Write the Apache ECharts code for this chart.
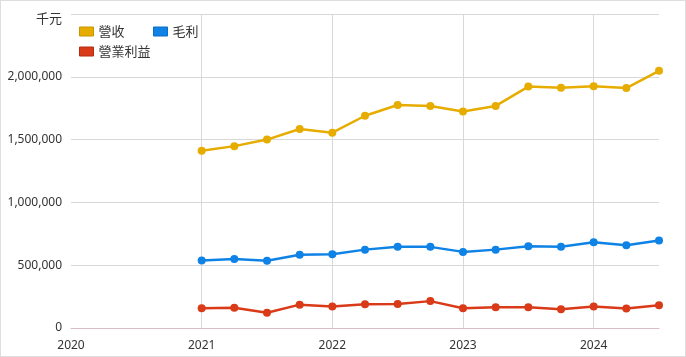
<!DOCTYPE html>
<html>
<head>
<meta charset="utf-8">
<script src="https://cdn.jsdelivr.net/npm/echarts@6/dist/echarts.min.js"></script>
<style>
html,body{margin:0;padding:0;background:#fff;}
#chart{width:686px;height:357px;box-sizing:border-box;border:1px solid #dedede;}
</style>
</head>
<body>
<div id="chart"></div>
<script>
// Quarter periods
var periods = ['2021Q1','2021Q2','2021Q3','2021Q4','2022Q1','2022Q2','2022Q3','2022Q4','2023Q1','2023Q2','2023Q3','2023Q4','2024Q1','2024Q2','2024Q3'];
var revenue = [1412000,1448000,1500000,1584000,1555000,1690000,1775000,1768000,1723000,1768000,1922000,1912000,1925000,1910000,2048000];
var grossProfit = [538000,550000,536000,584000,587000,624000,646000,646000,606000,624000,650000,646000,682000,658000,696000];
var operatingProfit = [158000,162000,122000,186000,171000,190000,192000,214000,158000,166000,166000,150000,171000,155000,182000];
var seriesNames = ['營收','毛利','營業利益'];
var colors = ['#e6ac00','#0f82e6','#d93a18'];
var borderColors = ['#c99600','#0a6cc4','#b52d10'];
var yearTicks = [2020,2021,2022,2023,2024];
var unitLabel = '千元';

function toYear(p){ return parseInt(p.slice(0,4),10) + (parseInt(p.slice(5),10)-1)/4; }
function pairs(vals){ return periods.map(function(p,i){ return [toYear(p), vals[i]]; }); }

var font = '"Noto Sans","Noto Sans CJK TC",sans-serif';
var cjkFont = '"Noto Sans CJK TC","Noto Sans",sans-serif';
var chart = echarts.init(document.getElementById('chart'));
var allData = [revenue, grossProfit, operatingProfit];

var legends = [
  {left: 78, top: 24, data: [seriesNames[0]]},
  {left: 152, top: 24, data: [seriesNames[1]]},
  {left: 78, top: 44, data: [seriesNames[2]]}
].map(function(l, i){
  return {
    left: l.left, top: l.top, data: [{name: l.data[0], itemStyle:{color: colors[i], borderColor: borderColors[i], borderWidth: 1}}],
    icon: 'rect', itemWidth: 14, itemHeight: 9, itemGap: 6, padding: 0,
    textStyle: {fontSize: 13, color: '#333', fontFamily: cjkFont},
    selectedMode: false
  };
});

chart.setOption({
  animation: false,
  backgroundColor: '#fff',
  title: {text: unitLabel, left: 35, top: 11, padding: 0, textStyle:{fontSize: 13, fontWeight: 'normal', color:'#333', fontFamily: cjkFont}},
  legend: legends,
  grid: {left: 70, right: 26, top: 13, bottom: 28, containLabel: false},
  xAxis: {
    type: 'value', min: 2020, max: 2024.5, interval: 1,
    axisLine: {show: true, lineStyle:{color:'#dcbcc6', width: 1}},
    axisTick: {show: false},
    axisLabel: {fontSize: 12, color:'#333', fontFamily: font, margin: 12,
      showMaxLabel: false,
      formatter: function(v){ return yearTicks.indexOf(v) >= 0 ? String(v) : ''; }},
    splitLine: {show: true, showMinLine: false, showMaxLine: false, lineStyle:{color:'#d8d8d8', width: 1}}
  },
  yAxis: {
    type: 'value', min: 0, max: 2500000, interval: 500000,
    axisLine: {show: false}, axisTick: {show: false},
    axisLabel: {fontSize: 12, color:'#333', fontFamily: font, margin: 9, showMaxLabel: false,
      formatter: function(v){ return v.toLocaleString('en-US'); }},
    splitLine: {lineStyle:{color:'#d8d8d8', width: 1}}
  },
  series: seriesNames.map(function(n, i){
    return {
      name: n, type: 'line', data: pairs(allData[i]),
      symbol: 'circle', symbolSize: 8,
      itemStyle: {color: colors[i]},
      lineStyle: {color: colors[i], width: 2.5},
      z: 3 - i
    };
  })
});
</script>
</body>
</html>
